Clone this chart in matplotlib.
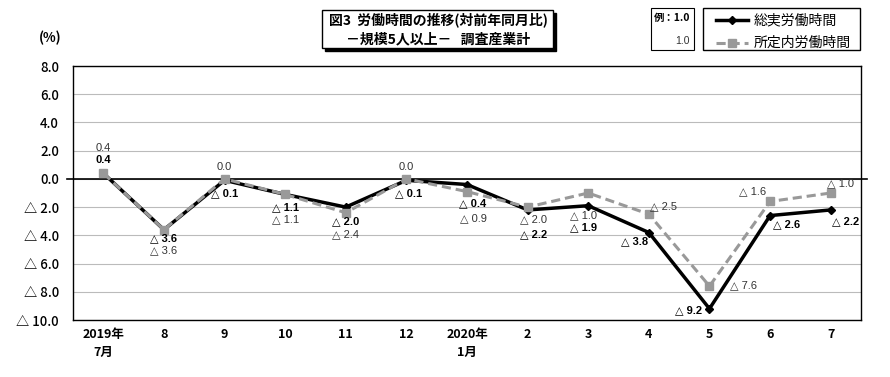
import matplotlib
matplotlib.use("Agg")
import matplotlib.pyplot as plt
from matplotlib.patches import Rectangle
from matplotlib.lines import Line2D

plt.rcParams['font.family'] = ['Noto Sans CJK JP', 'DejaVu Sans']

categories = ["2019年\n7月", "8", "9", "10", "11", "12", "2020年\n1月", "2", "3", "4", "5", "6", "7"]
total_hours = [0.4, -3.6, -0.1, -1.1, -2.0, -0.1, -0.4, -2.2, -1.9, -3.8, -9.2, -2.6, -2.2]
scheduled_hours = [0.4, -3.6, 0.0, -1.1, -2.4, 0.0, -0.9, -2.0, -1.0, -2.5, -7.6, -1.6, -1.0]
yticks = [8, 6, 4, 2, 0, -2, -4, -6, -8, -10]
ytick_labels = ["8.0", "6.0", "4.0", "2.0", "0.0", "△ 2.0", "△ 4.0", "△ 6.0", "△ 8.0", "△ 10.0"]

# label offsets in pixels (dx, dy) relative to point
total_off = [(0, 13), (0, -9), (0, -13), (0, -13), (0, -14), (2, -13), (6, -19),
             (6, -24), (-5, -22), (-14, -9), (-21, -2), (16, -9), (15, -11)]
sched_off = [(0, 25), (0, -21), (0, 12), (0, -25), (0, -22), (0, 12), (6, -27),
             (6, -12), (-5, -22), (15, 8), (34, 1), (-18, 10), (10, 10)]

def fmt(v):
    if v < 0:
        return "△ %.1f" % abs(v)
    return "%.1f" % v

label_family = ['Liberation Sans Narrow', 'Liberation Sans', 'DejaVu Sans']

fig = plt.figure(figsize=(8.9, 3.77), dpi=100)
ax = fig.add_axes([73/890, 1-320/377, (861-73)/890, (320-66)/377])
x = list(range(len(categories)))

ax.set_xlim(-0.5, len(categories) - 0.5)
ax.set_ylim(-10, 8)
ax.set_yticks(yticks)
ax.set_yticklabels(ytick_labels, fontsize=9.5, fontweight='medium')
ax.set_xticks(x)
ax.set_xticklabels(categories, fontsize=9, fontweight='bold', linespacing=1.5)
ax.tick_params(axis='both', length=0, pad=6)
ax.tick_params(axis='y', pad=10)
ax.grid(axis='y', color='#bbbbbb', linewidth=0.8)
ax.set_axisbelow(True)
for s in ax.spines.values():
    s.set_linewidth(1.0)
    s.set_color('black')

ax.add_line(Line2D([-0.008, 1.008], [10/18, 10/18], transform=ax.transAxes,
                   color='black', linewidth=1.2, clip_on=False, zorder=2))

ax.plot(x, total_hours, color='black', linewidth=2.5, marker='D', markersize=4.5,
        zorder=3)
ax.plot(x, scheduled_hours, color='#999999', linewidth=2.2, linestyle=(0, (3, 1.6)),
        marker='s', markersize=6, zorder=4)

for i in x:
    dx, dy = total_off[i]
    ax.annotate(fmt(total_hours[i]), (i, total_hours[i]), xytext=(dx, dy),
                textcoords='offset pixels', ha='center', va='center',
                fontsize=8, fontweight='bold', color='black', zorder=5,
                family=label_family)
    dx, dy = sched_off[i]
    ax.annotate(fmt(scheduled_hours[i]), (i, scheduled_hours[i]), xytext=(dx, dy),
                textcoords='offset pixels', ha='center', va='center',
                fontsize=8, color='#333333', zorder=5, family=label_family)

fig.text(50/890, 1-38/377, "(%)", fontsize=9.5, fontweight='bold', ha='center', va='center')

def fx(px): return px/890
def fy(py): return 1-py/377

# title box with shadow
fig.patches.append(Rectangle((fx(325), fy(51)), fx(553)-fx(322), fy(10)-fy(48),
                             transform=fig.transFigure, facecolor='black', edgecolor='black'))
fig.patches.append(Rectangle((fx(322), fy(48)), fx(553)-fx(322), fy(10)-fy(48),
                             transform=fig.transFigure, facecolor='white', edgecolor='black', linewidth=1))
fig.text(fx(438), fy(20), "図3  労働時間の推移(対前年同月比)", fontsize=10, fontweight='bold',
         ha='center', va='center')
fig.text(fx(438), fy(39), "－規模5人以上－   調査産業計", fontsize=10, fontweight='bold',
         ha='center', va='center')

# legend box 1
fig.patches.append(Rectangle((fx(651), fy(50)), fx(694)-fx(651), fy(8)-fy(50),
                             transform=fig.transFigure, facecolor='white', edgecolor='black', linewidth=0.8))
fig.text(fx(690), fy(18), "例：1.0", fontsize=7.5, fontweight='bold', ha='right', va='center')
fig.text(fx(690), fy(41), "1.0", fontsize=7.5, ha='right', va='center', color='#333333',
         family=label_family)

# legend box 2
fig.patches.append(Rectangle((fx(703), fy(50)), fx(860)-fx(703), fy(8)-fy(50),
                             transform=fig.transFigure, facecolor='white', edgecolor='black', linewidth=1))
fig.lines.append(Line2D([fx(716), fx(748)], [fy(20), fy(20)], transform=fig.transFigure,
                        color='black', linewidth=2.5))
fig.lines.append(Line2D([fx(732)], [fy(20)], transform=fig.transFigure,
                        color='black', marker='D', markersize=4.5, linestyle='none'))
fig.lines.append(Line2D([fx(716), fx(748)], [fy(43), fy(43)], transform=fig.transFigure,
                        color='#999999', linewidth=2.2, linestyle=(0, (3, 1.6))))
fig.lines.append(Line2D([fx(732)], [fy(43)], transform=fig.transFigure,
                        color='#999999', marker='s', markersize=6, linestyle='none'))
fig.text(fx(754), fy(20), "総実労働時間", fontsize=10, ha='left', va='center')
fig.text(fx(754), fy(43), "所定内労働時間", fontsize=10, ha='left', va='center')

fig.savefig("out.png", dpi=100)
